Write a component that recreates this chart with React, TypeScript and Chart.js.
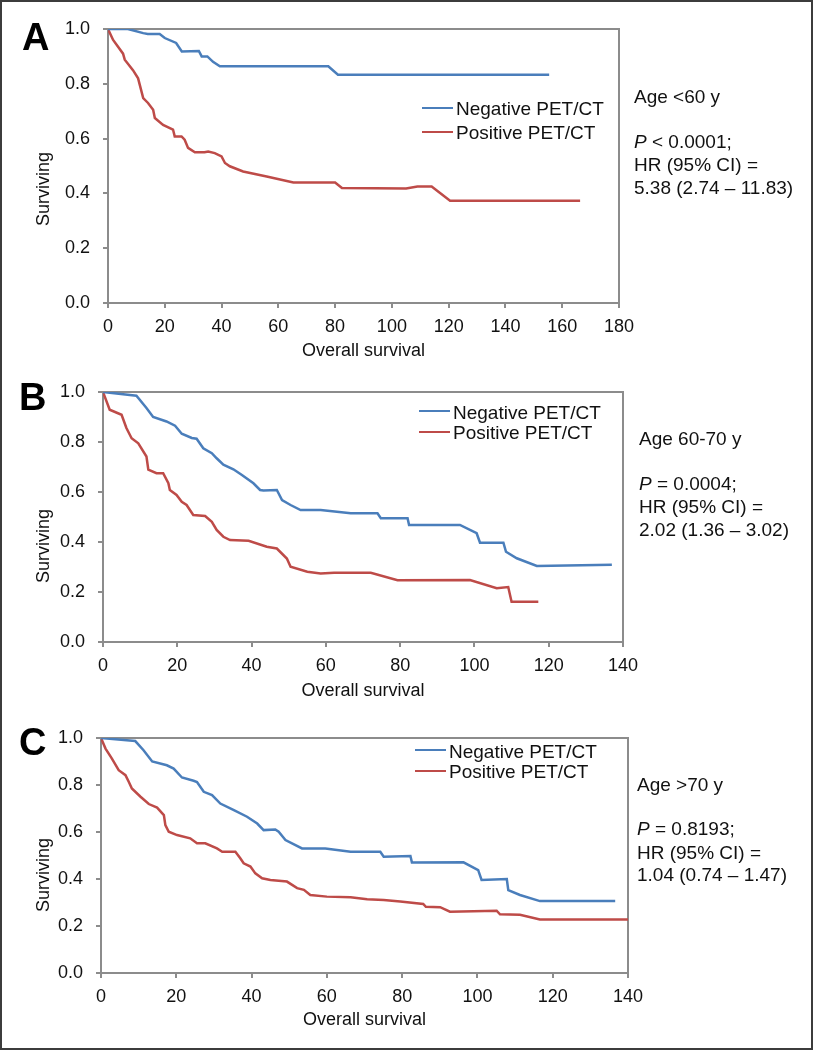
import React, { useEffect, useRef } from 'react';
import { Chart, registerables } from 'chart.js';

Chart.register(...registerables);

const FONT = "'Liberation Sans', Arial, Helvetica, sans-serif";
const BLUE = '#4a7ebb';
const RED = '#be4b48';
const AXIS = '#8c8c8c';
const TEXT = '#111111';

// ---------- Panel A (Age <60 y) ----------
const aNegTime = [0, 7, 12.4, 14, 18.2, 20, 24, 26, 32, 33, 35, 37, 39.4, 41.8, 77.6, 81, 155.4];
const aNegSurv = [1.0, 1.0, 0.985, 0.982, 0.982, 0.967, 0.949, 0.918, 0.92, 0.9, 0.9, 0.88, 0.864, 0.864, 0.864, 0.833, 0.833];
const aPosTime = [0, 1.8, 5.3, 5.9, 8.8, 10.6, 12.4, 14.1, 15.9, 16.5, 19.4, 22.9, 23.5, 25.9, 27, 28.2, 30.6, 34, 35.3, 37.6, 40, 41.2, 42.9, 47.6, 55.9, 65.3, 80, 82.4, 105, 109, 114, 120.5, 166.3];
const aPosSurv = [1.0, 0.96, 0.91, 0.888, 0.85, 0.82, 0.748, 0.73, 0.705, 0.675, 0.65, 0.633, 0.608, 0.608, 0.596, 0.566, 0.55, 0.55, 0.553, 0.547, 0.535, 0.511, 0.499, 0.48, 0.462, 0.44, 0.44, 0.42, 0.418, 0.425, 0.425, 0.373, 0.373];

// ---------- Panel B (Age 60-70 y) ----------
const bNegTime = [0, 9, 11.7, 13.5, 17.1, 19.4, 21.2, 23.9, 25.2, 27, 29.3, 30.6, 32.4, 35.1, 37.4, 40.5, 42.3, 43.2, 46.8, 48.2, 50.5, 53.2, 58.6, 66.7, 73.9, 74.8, 82, 82.4, 96.1, 100.6, 101.5, 107.8, 108.5, 111.4, 116.8, 137];
const bNegSurv = [1.0, 0.985, 0.936, 0.9, 0.882, 0.865, 0.833, 0.816, 0.813, 0.775, 0.755, 0.735, 0.709, 0.691, 0.668, 0.635, 0.608, 0.606, 0.608, 0.568, 0.548, 0.528, 0.528, 0.515, 0.515, 0.495, 0.495, 0.468, 0.468, 0.435, 0.397, 0.397, 0.361, 0.335, 0.304, 0.309];
const bPosTime = [0, 1.8, 5, 6.3, 7.7, 9.5, 11.7, 12.2, 14.4, 16.2, 17.6, 18, 19.8, 21.2, 22.5, 24.3, 27.5, 29.3, 30.6, 32.4, 34.2, 39.2, 44.1, 46.8, 49.5, 50.5, 55, 58.6, 62.2, 72.1, 79.3, 98.8, 106, 109.1, 110, 117.2];
const bPosSurv = [1.0, 0.929, 0.909, 0.856, 0.815, 0.795, 0.742, 0.689, 0.675, 0.675, 0.635, 0.608, 0.588, 0.561, 0.548, 0.508, 0.504, 0.481, 0.448, 0.421, 0.408, 0.405, 0.381, 0.374, 0.334, 0.301, 0.281, 0.274, 0.277, 0.277, 0.247, 0.248, 0.215, 0.22, 0.161, 0.161];

// ---------- Panel C (Age >70 y) ----------
const cNegTime = [0, 9.1, 11.3, 13.6, 17.5, 19.3, 21.5, 24.6, 25.5, 27.3, 29.5, 31.7, 35.3, 38.8, 41.5, 43.2, 46.3, 47.2, 49, 53.4, 59.6, 66.3, 74.2, 75.1, 82.2, 82.6, 96.3, 100.2, 101.1, 107.8, 108.2, 111.3, 116.6, 136.6];
const cNegSurv = [1.0, 0.987, 0.948, 0.9, 0.884, 0.87, 0.832, 0.818, 0.813, 0.771, 0.757, 0.721, 0.693, 0.665, 0.636, 0.608, 0.611, 0.601, 0.566, 0.53, 0.53, 0.516, 0.516, 0.495, 0.498, 0.47, 0.471, 0.438, 0.396, 0.4, 0.353, 0.332, 0.306, 0.306];
const cPosTime = [0, 1.2, 2.9, 4.7, 6.5, 7.4, 8.2, 10.5, 12.7, 14.9, 16.7, 17.1, 18, 20.2, 23.7, 25.5, 27.7, 30.8, 32.2, 35.7, 37, 37.9, 39.7, 41, 42.8, 45, 49.4, 52.1, 53.9, 55.6, 60, 66.3, 70.7, 75.1, 79.5, 85.6, 86.3, 90.1, 92.7, 105.1, 106, 111.3, 116.6, 140];
const cPosSurv = [1.0, 0.955, 0.912, 0.863, 0.842, 0.813, 0.785, 0.75, 0.719, 0.704, 0.672, 0.629, 0.601, 0.587, 0.573, 0.552, 0.552, 0.53, 0.516, 0.516, 0.488, 0.467, 0.453, 0.424, 0.403, 0.396, 0.389, 0.361, 0.354, 0.332, 0.325, 0.322, 0.314, 0.311, 0.304, 0.294, 0.282, 0.28, 0.261, 0.265, 0.25, 0.248, 0.228, 0.228];

const seriesLabels = ['Negative PET/CT', 'Positive PET/CT'];
const panelLetters = ['A', 'B', 'C'];
const xAxisTitle = 'Overall survival';
const yAxisTitle = 'Surviving';
const xMaxes = [180, 140, 140];
const ageLabels = ['Age <60 y', 'Age 60-70 y', 'Age >70 y'];
const pLabels = ['< 0.0001;', '= 0.0004;', '= 0.8193;'];
const hrLabels = ['5.38 (2.74 \u2013 11.83)', '2.02 (1.36 \u2013 3.02)', '1.04 (0.74 \u2013 1.47)'];

const toPoints = (t: number[], v: number[]) => t.map((x, i) => ({ x, y: v[i] }));

const framePlugin = {
  id: 'frameBox',
  beforeDatasetsDraw(chart: any) {
    const { ctx, chartArea: a } = chart;
    ctx.save();
    ctx.strokeStyle = AXIS;
    ctx.lineWidth = 2;
    ctx.beginPath();
    ctx.moveTo(a.left, a.top);
    ctx.lineTo(a.right, a.top);
    ctx.lineTo(a.right, a.bottom);
    ctx.stroke();
    ctx.restore();
  },
};

type Area = { l: number; t: number; r: number; b: number };

type PanelProps = {
  canvasTop: number;
  canvasH: number;
  area: Area;
  xMax: number;
  xTitlePad: number;
  neg: { x: number; y: number }[];
  pos: { x: number; y: number }[];
};

function Panel({ canvasTop, canvasH, area, xMax, xTitlePad, neg, pos }: PanelProps) {
  const ref = useRef<HTMLCanvasElement | null>(null);
  useEffect(() => {
    if (!ref.current) return;
    const yW = area.l;
    const xH = canvasTop + canvasH - area.b;
    const chart = new Chart(ref.current, {
      type: 'line',
      data: {
        datasets: [
          { label: seriesLabels[0], data: neg, borderColor: BLUE, backgroundColor: BLUE, borderWidth: 2.5, pointRadius: 0, fill: false, tension: 0 },
          { label: seriesLabels[1], data: pos, borderColor: RED, backgroundColor: RED, borderWidth: 2.5, pointRadius: 0, fill: false, tension: 0 },
        ],
      },
      options: {
        animation: false,
        responsive: false,
        maintainAspectRatio: false,
        layout: { padding: { top: area.t - canvasTop, left: 0, right: 814 - area.r, bottom: 0 } },
        plugins: { legend: { display: false }, tooltip: { enabled: false } },
        scales: {
          x: {
            type: 'linear',
            min: 0,
            max: xMax,
            ticks: { stepSize: 20, font: { family: FONT, size: 18 }, color: TEXT, padding: 8, maxRotation: 0, autoSkip: false },
            grid: { drawOnChartArea: false, drawTicks: true, tickLength: 5, color: AXIS, lineWidth: 2 },
            border: { display: true, color: AXIS, width: 2 },
            title: { display: true, text: xAxisTitle, font: { family: FONT, size: 18 }, color: TEXT, padding: { top: 0, bottom: xTitlePad } },
            afterFit: (s: any) => { s.height = xH; },
          },
          y: {
            type: 'linear',
            min: 0,
            max: 1,
            ticks: { stepSize: 0.2, font: { family: FONT, size: 18 }, color: TEXT, padding: 13, callback: (v: any) => Number(v).toFixed(1) },
            grid: { drawOnChartArea: false, drawTicks: true, tickLength: 5, color: AXIS, lineWidth: 2 },
            border: { display: true, color: AXIS, width: 2 },
            title: { display: false, text: yAxisTitle },
            afterFit: (s: any) => { s.width = yW; },
          },
        },
      },
      plugins: [framePlugin],
    } as any);
    return () => chart.destroy();
  }, []);
  return (
    <canvas
      ref={ref}
      width={814}
      height={canvasH}
      style={{ position: 'absolute', left: 0, top: canvasTop, width: 814, height: canvasH }}
    />
  );
}

const textStyle: React.CSSProperties = {
  position: 'absolute',
  fontFamily: FONT,
  fontSize: 19,
  lineHeight: '22px',
  color: TEXT,
  whiteSpace: 'nowrap',
};

function YTitle({ cx, cy }: { cx: number; cy: number }) {
  return (
    <div style={{ ...textStyle, fontSize: 18, left: cx, top: cy, transform: 'translate(-50%, -50%) rotate(-90deg)' }}>
      {yAxisTitle}
    </div>
  );
}

function Legend({ lineX, textX, rows, lineRows }: { lineX: number; textX: number; rows: number[]; lineRows: number[] }) {
  const colors = [BLUE, RED];
  return (
    <>
      {seriesLabels.map((lab, i) => (
        <React.Fragment key={lab}>
          <div style={{ position: 'absolute', left: lineX, top: lineRows[i] - 1, width: textX - lineX - 3, height: 2, background: colors[i] }} />
          <div style={{ ...textStyle, left: textX, top: rows[i] - 11 }}>{lab}</div>
        </React.Fragment>
      ))}
    </>
  );
}

function Notes({ x, ys, idx }: { x: number; ys: number[]; idx: number }) {
  return (
    <>
      <div style={{ ...textStyle, left: x, top: ys[0] - 11 }}>{ageLabels[idx]}</div>
      <div style={{ ...textStyle, left: x, top: ys[1] - 11 }}><i>P</i> {pLabels[idx]}</div>
      <div style={{ ...textStyle, left: x, top: ys[2] - 11 }}>HR (95% CI) =</div>
      <div style={{ ...textStyle, left: x, top: ys[3] - 11 }}>{hrLabels[idx]}</div>
    </>
  );
}

function Letter({ x, y, idx }: { x: number; y: number; idx: number }) {
  return (
    <div style={{ position: 'absolute', left: x, top: y, fontFamily: FONT, fontWeight: 'bold', fontSize: 38, lineHeight: '38px', color: '#000' }}>
      {panelLetters[idx]}
    </div>
  );
}

export default function App() {
  return (
    <div style={{ position: 'absolute', left: 0, top: 0, width: 814, height: 1050, background: '#fff', overflow: 'hidden' }}>
      <div style={{ position: 'absolute', left: 0, top: 0, width: 813, height: 1050, border: '2px solid #3c3c3c', boxSizing: 'border-box' }} />
      <Panel canvasTop={0} canvasH={365} area={{ l: 108, t: 29, r: 619, b: 303 }} xMax={xMaxes[0]} xTitlePad={3.2}
        neg={toPoints(aNegTime, aNegSurv)} pos={toPoints(aPosTime, aPosSurv)} />
      <Panel canvasTop={365} canvasH={340} area={{ l: 103, t: 392, r: 623, b: 642 }} xMax={xMaxes[1]} xTitlePad={3.2}
        neg={toPoints(bNegTime, bNegSurv)} pos={toPoints(bPosTime, bPosSurv)} />
      <Panel canvasTop={705} canvasH={345} area={{ l: 101, t: 738, r: 628, b: 973 }} xMax={xMaxes[2]} xTitlePad={19.2}
        neg={toPoints(cNegTime, cNegSurv)} pos={toPoints(cPosTime, cPosSurv)} />

      <YTitle cx={43} cy={189} />
      <YTitle cx={42.5} cy={546} />
      <YTitle cx={42.5} cy={875} />

      <Letter x={22} y={18} idx={0} />
      <Letter x={19} y={378} idx={1} />
      <Letter x={19} y={723} idx={2} />

      <Legend lineX={422} textX={456} rows={[109, 133]} lineRows={[107.5, 131.5]} />
      <Legend lineX={419} textX={453} rows={[413, 433]} lineRows={[411, 432]} />
      <Legend lineX={415} textX={449} rows={[752, 772]} lineRows={[750, 771]} />

      <Notes x={634} ys={[97, 142, 165, 188]} idx={0} />
      <Notes x={639} ys={[439, 484, 507, 530]} idx={1} />
      <Notes x={637} ys={[785, 829, 853, 875]} idx={2} />
    </div>
  );
}
